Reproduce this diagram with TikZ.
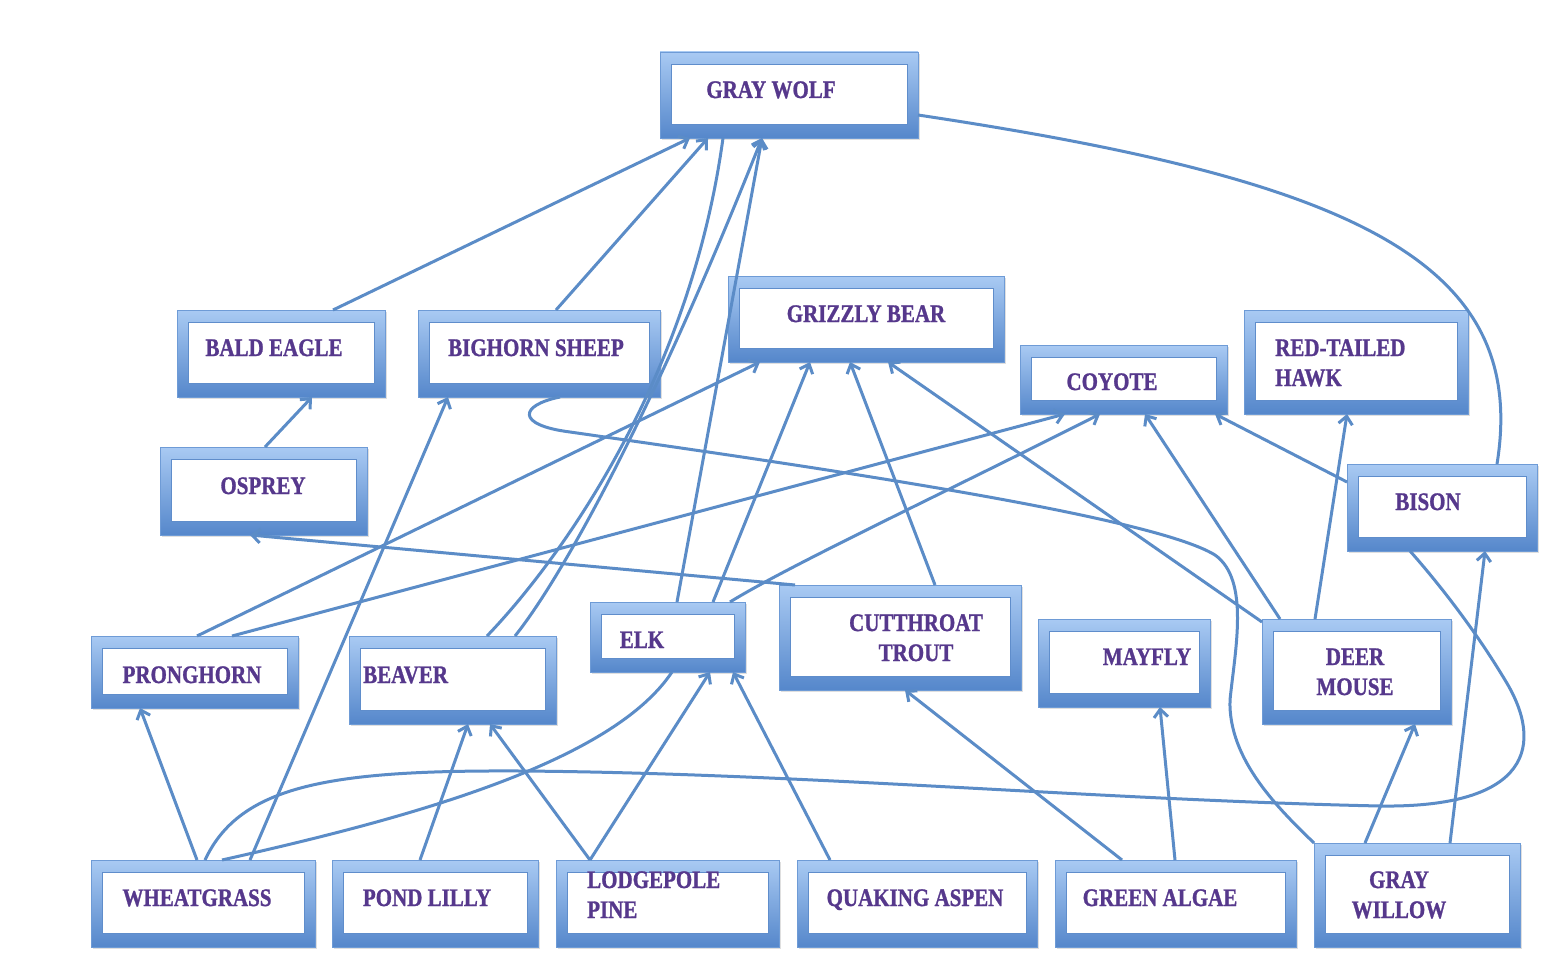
\documentclass[tikz,border=0pt]{standalone}
\usepackage{fontspec}
\setmainfont{Liberation Serif}[BoldFeatures={FakeBold=1.2}]
\usetikzlibrary{arrows.meta,shadows}
\definecolor{frameTop}{HTML}{A9CAF3}
\definecolor{frameBot}{HTML}{5587CB}
\definecolor{frameEdge}{HTML}{6E9BD6}
\definecolor{innerEdge}{HTML}{5F8DCB}
\definecolor{linkBlue}{HTML}{5B8CC7}
\definecolor{txtPurple}{HTML}{56388C}
\newcommand{\tx}[2][c]{\scalebox{1}[1.2]{\begin{tabular}{@{}#1@{}}#2\end{tabular}}}
\begin{document}
\begin{tikzpicture}[x=1pt,y=-1pt,
  fwbox/.style={rectangle, inner sep=0pt, outer sep=0pt,
    top color=frameTop, bottom color=frameBot, draw=frameEdge, line width=0.8pt,
    drop shadow={shadow xshift=1.5pt, shadow yshift=-2pt, opacity=0.25},
    path picture={
      \fill[white, draw=innerEdge, line width=0.8pt]
        ([shift={(11pt,-12pt)}]path picture bounding box.north west) rectangle
        ([shift={(-11pt,14pt)}]path picture bounding box.south east);}},
  lbl/.style={text=txtPurple, font=\fontsize{21}{25}\selectfont\bfseries, inner sep=0pt},
  link/.style={draw=linkBlue, line width=3pt},
  arr/.style={link, -{Straight Barb[length=8pt,width=14pt]}}
]
\fill[white] (0,0) rectangle (1552,960);
\useasboundingbox (0,0) rectangle (1552,960);

% ---------- boxes ----------
\node[fwbox, minimum width=258pt, minimum height=86pt] (wolf) at (789,95) {};
\node[fwbox, minimum width=208pt, minimum height=87pt] (eagle) at (281,353.5) {};
\node[fwbox, minimum width=242pt, minimum height=87pt] (bighorn) at (539,353.5) {};
\node[fwbox, minimum width=276pt, minimum height=86pt] (grizzly) at (866,319) {};
\node[fwbox, minimum width=207pt, minimum height=69pt] (coyote) at (1123.5,379.5) {};
\node[fwbox, minimum width=224pt, minimum height=104pt] (hawk) at (1356,362) {};
\node[fwbox, minimum width=207pt, minimum height=88pt] (osprey) at (263.5,491) {};
\node[fwbox, minimum width=190pt, minimum height=87pt] (bison) at (1442,507.5) {};
\node[fwbox, minimum width=207pt, minimum height=72pt] (pronghorn) at (194.5,672) {};
\node[fwbox, minimum width=207pt, minimum height=88pt] (beaver) at (452.5,680) {};
\node[fwbox, minimum width=155pt, minimum height=70pt] (elk) at (667.5,637) {};
\node[fwbox, minimum width=242pt, minimum height=105pt] (trout) at (900,637.5) {};
\node[fwbox, minimum width=172pt, minimum height=88pt] (mayfly) at (1124,663) {};
\node[fwbox, minimum width=189pt, minimum height=105pt] (deermouse) at (1356.5,671.5) {};
\node[fwbox, minimum width=224pt, minimum height=87pt] (wheat) at (203,903.5) {};
\node[fwbox, minimum width=206pt, minimum height=87pt] (pond) at (435,903.5) {};
\node[fwbox, minimum width=223pt, minimum height=87pt] (lodge) at (667.5,903.5) {};
\node[fwbox, minimum width=240pt, minimum height=87pt] (aspen) at (917,903.5) {};
\node[fwbox, minimum width=241pt, minimum height=87pt] (algae) at (1175.5,903.5) {};
\node[fwbox, minimum width=206pt, minimum height=104pt] (willow) at (1417,895) {};

% ---------- labels ----------
\node[lbl] (wolf-t) at (771,92) {\tx{GRAY WOLF}};
\node[lbl] (eagle-t) at (274,350) {\tx{BALD EAGLE}};
\node[lbl] (bighorn-t) at (536,350) {\tx{BIGHORN SHEEP}};
\node[lbl] (grizzly-t) at (866,316) {\tx{GRIZZLY BEAR}};
\node[lbl] (coyote-t) at (1112,384) {\tx{COYOTE}};
\node[lbl, anchor=west] (hawk-t) at (1275,365) {\tx[l]{RED-TAILED\\HAWK}};
\node[lbl] (osprey-t) at (263,488) {\tx{OSPREY}};
\node[lbl] (bison-t) at (1428,504) {\tx{BISON}};
\node[lbl] (pronghorn-t) at (192,677) {\tx{PRONGHORN}};
\node[lbl, anchor=west] (beaver-t) at (363,677) {\tx{BEAVER}};
\node[lbl] (elk-t) at (642,642) {\tx{ELK}};
\node[lbl] (trout-t) at (916,640) {\tx{CUTTHROAT\\TROUT}};
\node[lbl] (mayfly-t) at (1147,659) {\tx{MAYFLY}};
\node[lbl] (deermouse-t) at (1355,674) {\tx{DEER\\MOUSE}};
\node[lbl] (wheat-t) at (197,900) {\tx{WHEATGRASS}};
\node[lbl] (pond-t) at (427,900) {\tx{POND LILLY}};
\node[lbl, anchor=west] (lodge-t) at (587,897) {\tx[l]{LODGEPOLE\\PINE}};
\node[lbl] (aspen-t) at (915,900) {\tx{QUAKING ASPEN}};
\node[lbl] (algae-t) at (1160,900) {\tx{GREEN ALGAE}};
\node[lbl] (willow-t) at (1399,897) {\tx{GRAY\\WILLOW}};

% ---------- connectors ----------
% to gray wolf
\draw[arr] ([xshift=156pt]eagle.north west) -- ([xshift=30pt]wolf.south west);
\draw[arr] ([xshift=138pt]bighorn.north west) -- ([xshift=48pt]wolf.south west);
\draw[arr] ([xshift=87pt]elk.north west) -- ([xshift=102pt]wolf.south west);
\draw[arr] ([xshift=166pt]beaver.north west) .. controls (560,580) and (650,420) .. ([xshift=102pt]wolf.south west);
\draw[link] ([xshift=138pt]beaver.north west) .. controls (560,560) and (690,380) .. ([xshift=63pt]wolf.south west);
\draw[link] ([yshift=-63pt]wolf.north east) .. controls (1350,180) and (1530,260) .. ([xshift=150pt]bison.north west);

% upper birds
\draw[arr] ([xshift=105pt]osprey.north west) -- ([xshift=135pt]eagle.south west);
\draw[arr] ([xshift=16pt]trout.north west) -- ([xshift=90pt]osprey.south west);

% to grizzly
\draw[arr] ([xshift=106pt]pronghorn.north west) -- ([xshift=32pt]grizzly.south west);
\draw[arr] ([xshift=123pt]elk.north west) -- ([xshift=82pt]grizzly.south west);
\draw[arr] ([xshift=156pt]trout.north west) -- ([xshift=122pt]grizzly.south west);
\draw[arr] ([yshift=-3pt]deermouse.north west) -- ([xshift=160pt]grizzly.south west);

% to coyote
\draw[arr] ([xshift=141pt]pronghorn.north west) -- ([xshift=45pt]coyote.south west);
\draw[arr] ([xshift=140pt]elk.north west) .. controls (790,565) and (950,490) .. ([xshift=80pt]coyote.south west);
\draw[arr] ([xshift=18pt]deermouse.north west) -- ([xshift=125pt]coyote.south west);
\draw[arr] ([yshift=-18pt]bison.north west) -- ([xshift=-12pt]coyote.south east);

% hawk, bison, deer mouse
\draw[arr] ([xshift=53pt]deermouse.north west) -- ([xshift=103pt]hawk.south west);
\draw[arr] ([xshift=136pt]willow.north west) -- ([xshift=138pt]bison.south west);
\draw[arr] ([xshift=51pt]willow.north west) -- ([xshift=153pt]deermouse.south west);

% long curves
\draw[link] ([xshift=114pt]wheat.north west)
  .. controls (240,785) and (330,770) .. (520,771)
  .. controls (800,773) and (1100,800) .. (1380,806)
  .. controls (1530,808) and (1545,745) .. (1505,680)
  .. controls (1475,630) and (1440,585) .. ([xshift=63pt]bison.south west);
\draw[link] ([xshift=142pt]bighorn.south west)
  .. controls (520,405) and (515,425) .. (570,432)
  .. controls (800,465) and (1150,515) .. (1215,555)
  .. controls (1250,580) and (1235,650) .. (1230,700)
  .. controls (1228,760) and (1280,810) .. (willow.north west);

% from wheatgrass
\draw[arr] ([xshift=106pt]wheat.north west) -- ([xshift=49pt]pronghorn.south west);
\draw[arr] ([xshift=159pt]wheat.north west) -- ([xshift=30pt]bighorn.south west);
\draw[link] ([xshift=131pt]wheat.north west) .. controls (400,820) and (610,765) .. ([xshift=82pt]elk.south west);

% lower level
\draw[arr] ([xshift=88pt]pond.north west) -- ([xshift=119pt]beaver.south west);
\draw[arr] ([xshift=34pt]lodge.north west) -- ([xshift=141pt]beaver.south west);
\draw[arr] ([xshift=34pt]lodge.north west) -- ([xshift=120pt]elk.south west);
\draw[arr] ([xshift=33pt]aspen.north west) -- ([xshift=143pt]elk.south west);
\draw[arr] ([xshift=67pt]algae.north west) -- ([xshift=126pt]trout.south west);
\draw[arr] ([xshift=120pt]algae.north west) -- ([xshift=122pt]mayfly.south west);
\end{tikzpicture}
\end{document}
